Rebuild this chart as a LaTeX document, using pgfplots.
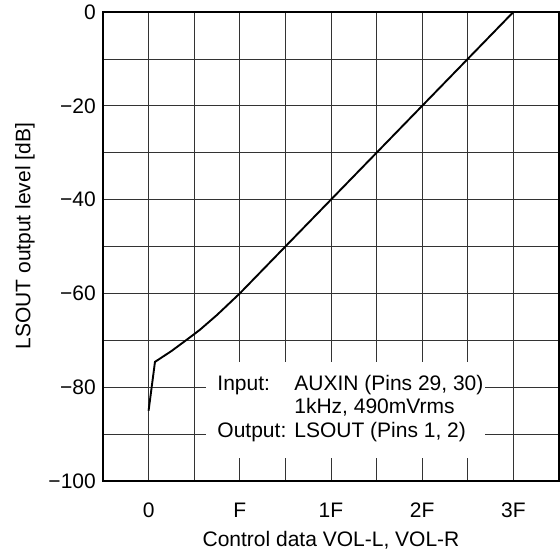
\documentclass[border=0pt]{standalone}
\usepackage{fontspec}
\setmainfont{Liberation Sans}
\usepackage{pgfplots}
\pgfplotsset{compat=1.18}
\begin{document}
\fontsize{21}{25}\selectfont
\begin{tikzpicture}
\useasboundingbox (-103pt,-71pt) rectangle (457pt,481pt);
\begin{axis}[
  at={(0pt,0pt)}, anchor=south west,
  scale only axis, width=456pt, height=469pt,
  xmin=-0.5, xmax=4.5, ymin=-100, ymax=0,
  xtick={0,1,2,3,4}, xticklabels={0,F,1F,2F,3F},
  ytick={-100,-80,-60,-40,-20,0},
  yticklabels={−100,−80,−60,−40,−20,0},
  minor xtick={0.5,1.5,2.5,3.5},
  minor ytick={-90,-70,-50,-30,-10},
  grid=both,
  major grid style={black!80, line width=0.7pt},
  minor grid style={black!80, line width=0.7pt},
  major tick length=0pt, minor tick length=0pt,
  axis line style={line width=1.3pt},
  tick label style={font=\fontsize{21}{25}\selectfont},
  xticklabel style={yshift=-15pt},
  label style={font=\fontsize{21}{25}\selectfont},
  xlabel={Control data VOL-L, VOL-R},
  xlabel style={at={(axis description cs:0.5,-0.1258)}, anchor=center},
  ylabel={LSOUT output level [dB]},
  ylabel style={at={(axis description cs:-0.171,0.522)}, anchor=center},
]
\addplot[black, line width=1.9pt] coordinates {
  (0,-85) (0.07,-74.6) (0.25,-72.3) (0.41,-70) (0.56,-67.8) (0.75,-64.6) (1,-60) (4,0)
};
\fill[white] (axis cs:0.63,-74.6) rectangle (axis cs:3.69,-95.1);
\node[anchor=base west, inner sep=0pt] at (axis cs:0.753,-80.6) {Input:};
\node[anchor=base west, inner sep=0pt] at (axis cs:1.596,-80.6) {AUXIN (Pins 29, 30)};
\node[anchor=base west, inner sep=0pt] at (axis cs:1.596,-85.6) {1kHz, 490mVrms};
\node[anchor=base west, inner sep=0pt] at (axis cs:0.753,-90.8) {Output:};
\node[anchor=base west, inner sep=0pt] at (axis cs:1.596,-90.8) {LSOUT (Pins 1, 2)};
\end{axis}
\end{tikzpicture}
\end{document}
